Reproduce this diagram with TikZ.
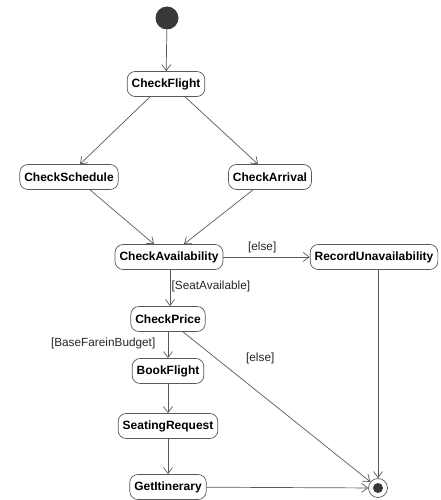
\documentclass[tikz,border=0pt]{standalone}
\usepackage{fontspec}
\setmainfont{Liberation Sans}
\usetikzlibrary{arrows.meta}
\begin{document}
\begin{tikzpicture}[x=1pt,y=-1pt,line join=round,>={Straight Barb[length=6pt,width=9pt]}]
	\tikzset{action/.style={draw=black!65,fill=white,line width=0.7pt,rounded corners=8pt,font=\fontsize{12}{14}\selectfont\bfseries,minimum height=25pt,inner xsep=4.5pt},
		flow/.style={draw=black!65,line width=0.7pt,->},
		guard/.style={font=\fontsize{11.8}{14}\selectfont,text=black!85}}
	\useasboundingbox (0,0) rectangle (440,500);
	% initial and final states
	\node[circle,fill=black!78,minimum size=23pt,inner sep=0pt] (start) at (167,18) {};
	\node[circle,draw=black!65,line width=0.7pt,fill=white,minimum size=19pt,inner sep=0pt] (final) at (378,488) {};
	\fill[black!78] (final) circle (5pt);
	% actions
	\node[action] (checkflight) at (166,84) {CheckFlight};
	\node[action] (checkschedule) at (69,177) {CheckSchedule};
	\node[action] (checkarrival) at (270,177) {CheckArrival};
	\node[action] (checkavail) at (169,257) {CheckAvailability};
	\node[action] (recordunavail) at (374,257) {RecordUnavailability};
	\node[action] (checkprice) at (168,319) {CheckPrice};
	\node[action] (bookflight) at (168,371) {BookFlight};
	\node[action] (seatingreq) at (168,426) {SeatingRequest};
	\node[action] (getitinerary) at (168,487) {GetItinerary};
	% transitions
	\draw[flow] (start) -- (checkflight);
	\draw[flow] ([xshift=-16pt]checkflight.south) -- ([xshift=11pt]checkschedule.north);
	\draw[flow] ([xshift=19pt]checkflight.south) -- ([xshift=-12pt]checkarrival.north);
	\draw[flow] ([xshift=21pt]checkschedule.south) -- ([xshift=-15pt]checkavail.north);
	\draw[flow] ([xshift=-17pt]checkarrival.south) -- ([xshift=15pt]checkavail.north);
	\draw[flow] (checkavail) -- (recordunavail) node[guard,pos=0.45,above] {[else]};
	\draw[flow] ([xshift=1pt]checkavail.south) -- ([xshift=2pt]checkprice.north) node[guard,pos=0.45,right,xshift=-2pt] {[SeatAvailable]};
	\draw[flow] (checkprice) -- (bookflight) node[guard,pos=0.45,left,xshift=-9pt] {[BaseFareinBudget]};
	\draw[flow] ([xshift=15pt]checkprice.south) -- (final) node[guard,pos=0.2,anchor=west,xshift=22pt,yshift=3pt] {[else]};
	\draw[flow] (bookflight) -- (seatingreq);
	\draw[flow] (seatingreq) -- (getitinerary);
	\draw[flow] (getitinerary) -- (final);
	\draw[flow] (recordunavail.south -| final) -- (final);
\end{tikzpicture}
\end{document}
